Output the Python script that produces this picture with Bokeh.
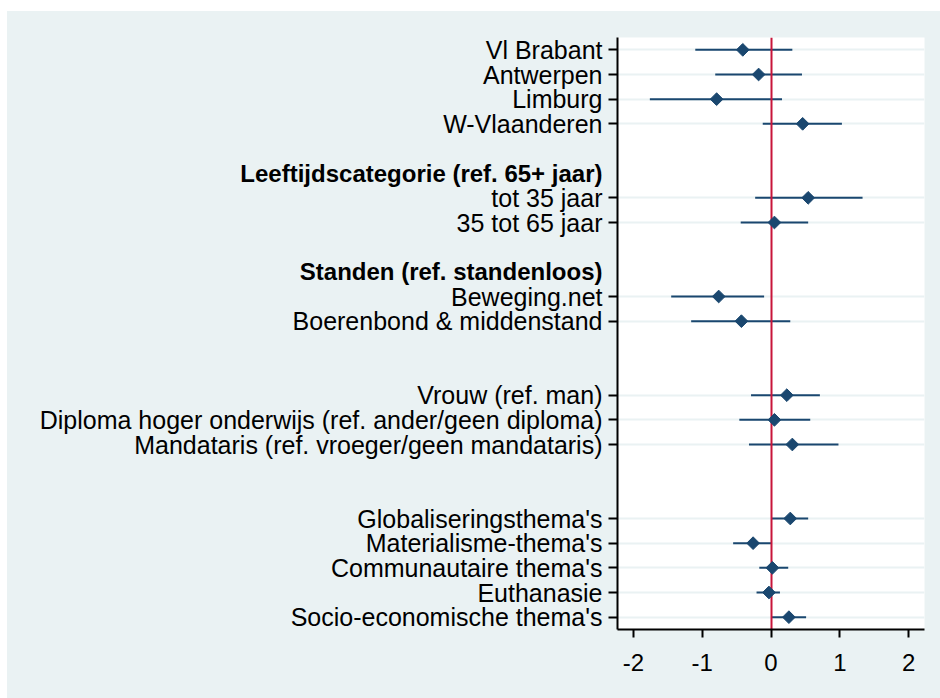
import numpy as np
from bokeh.plotting import figure
from bokeh.models import ColumnDataSource, FixedTicker, Range1d, Spacer
from bokeh.layouts import row, column
from bokeh.core.properties import value
from bokeh.embed import file_html
from bokeh.resources import INLINE

# ---- data ----
labels = ["Vl Brabant", "Antwerpen", "Limburg", "W-Vlaanderen",
          "tot 35 jaar", "35 tot 65 jaar",
          "Beweging.net", "Boerenbond & middenstand",
          "Vrouw (ref. man)", "Diploma hoger onderwijs (ref. ander/geen diploma)",
          "Mandataris (ref. vroeger/geen mandataris)",
          "Globaliseringsthema's", "Materialisme-thema's", "Communautaire thema's",
          "Euthanasie", "Socio-economische thema's"]
rows = [0, 1, 2, 3, 6, 7, 10, 11, 14, 15, 16, 19, 20, 21, 22, 23]
coef = [-0.41, -0.18, -0.79, 0.46, 0.54, 0.05, -0.76, -0.43, 0.23, 0.05, 0.31,
        0.28, -0.26, 0.02, -0.03, 0.26]
ci_lo = [-1.10, -0.81, -1.76, -0.12, -0.23, -0.44, -1.45, -1.16, -0.29, -0.46, -0.32,
         0.00, -0.55, -0.17, -0.21, 0.00]
ci_hi = [0.31, 0.45, 0.16, 1.03, 1.33, 0.54, -0.10, 0.28, 0.71, 0.57, 0.98,
         0.54, 0.01, 0.25, 0.13, 0.51]
headers = ["Leeftijdscategorie (ref. 65+ jaar)", "Standen (ref. standenloos)"]
header_rows = [5, 9]
x_ticks = [-2, -1, 0, 1, 2]
x_tick_labels = ["-2", "-1", "0", "1", "2"]
ref_line = [0]

FONT = "Liberation Sans"
BG = "#EAF2F3"
NAVY = "#1A476F"
H = 687
TOP, BOTTOM = 26, 69

yr = Range1d(23.5, -0.5)

# ---- label panel (left) ----
lab = figure(width=597, height=H, output_backend="svg", toolbar_location=None,
             x_range=Range1d(0, 1), y_range=yr, x_axis_location=None,
             y_axis_location=None, min_border_left=0, min_border_right=0,
             min_border_top=TOP, min_border_bottom=BOTTOM,
             styles={"background-color": BG})
lab.border_fill_color = BG
lab.background_fill_color = BG
lab.outline_line_color = None
lab.grid.grid_line_color = None
lab_src = ColumnDataSource(dict(x=[1] * len(rows), y=rows, t=labels))
hdr_src = ColumnDataSource(dict(x=[1] * len(header_rows), y=header_rows, t=headers))
lab.text(x="x", y="y", text="t", source=lab_src, x_offset=-2, text_align="right",
         text_baseline="middle", text_font=value(FONT), text_font_size="25px",
         text_color="black")
lab.text(x="x", y="y", text="t", source=hdr_src, x_offset=-2, text_align="right",
         text_baseline="middle", text_font=value(FONT), text_font_size="24px",
         text_font_style="bold", text_color="black")

# ---- coefficient plot ----
src = ColumnDataSource(dict(y=rows, coef=coef, lo=ci_lo, hi=ci_hi))
p = figure(width=336, height=H, output_backend="svg", toolbar_location=None,
           x_range=Range1d(-2.23, 2.23), y_range=yr,
           min_border_left=13, min_border_right=16, min_border_top=TOP,
           min_border_bottom=BOTTOM, styles={"background-color": BG})
p.border_fill_color = BG
p.background_fill_color = "white"
p.outline_line_color = None

p.segment(x0="lo", x1="hi", y0="y", y1="y", source=src, line_color=NAVY, line_width=2)
p.vspan(x=ref_line, line_color="#C8153A", line_width=2)
p.scatter(x="coef", y="y", source=src, marker="square", angle=np.pi / 4, size=9,
          fill_color=NAVY, line_color=NAVY)

p.yaxis.ticker = FixedTicker(ticks=rows)
p.yaxis.major_label_overrides = {r: "" for r in rows}
p.yaxis.major_label_text_font_size = "0px"
p.yaxis.major_label_standoff = 0
p.yaxis.minor_tick_line_color = None
p.yaxis.major_tick_in = 0
p.yaxis.major_tick_out = 9
p.yaxis.axis_line_width = 2
p.yaxis.major_tick_line_width = 2
p.yaxis.axis_line_color = "black"

p.xaxis.ticker = FixedTicker(ticks=x_ticks)
p.xaxis.major_label_overrides = {t: s for t, s in zip(x_ticks, x_tick_labels)}
p.xaxis.minor_tick_line_color = None
p.xaxis.major_tick_in = 0
p.xaxis.major_tick_out = 8
p.xaxis.major_label_standoff = 16
p.xaxis.axis_line_width = 2
p.xaxis.major_tick_line_width = 2
p.xaxis.axis_line_color = "black"
p.xaxis.major_label_text_font = FONT
p.xaxis.major_label_text_font_size = "24px"
p.xaxis.major_label_text_color = "black"

p.xgrid.grid_line_color = None
p.ygrid.grid_line_color = BG
p.ygrid.grid_line_width = 2

inner = row(lab, p, styles={"background-color": BG})
layout = column(Spacer(height=11), row(Spacer(width=7), inner))

open("out.html", "w").write(file_html(layout, INLINE))
